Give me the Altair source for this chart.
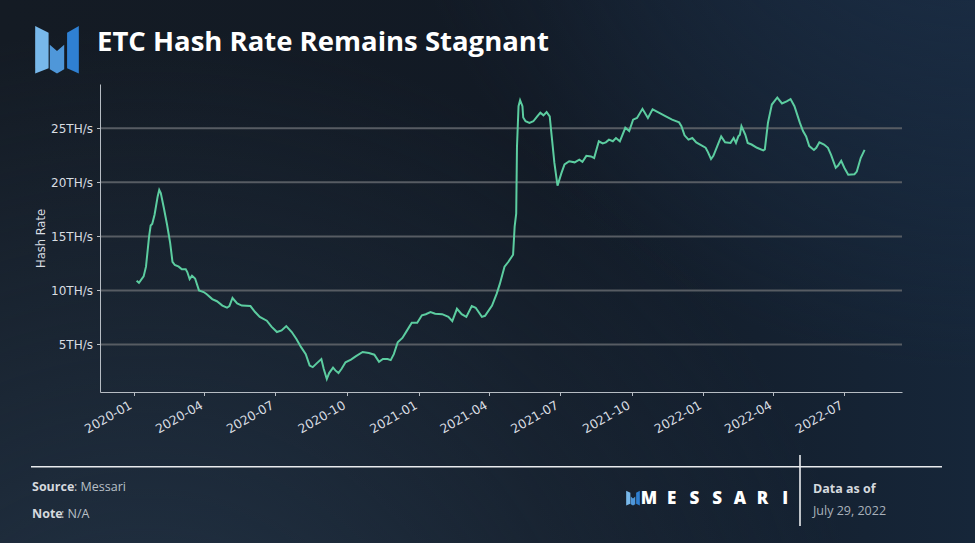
import altair as alt
import pandas as pd

# ---- data ---------------------------------------------------------------
dates = [
    "2020-01-05", "2020-01-08", "2020-01-14", "2020-01-17", "2020-01-21", "2020-01-23",
    "2020-01-25", "2020-01-28", "2020-02-01", "2020-02-03", "2020-02-05", "2020-02-09",
    "2020-02-13", "2020-02-17", "2020-02-20", "2020-02-23", "2020-02-28", "2020-03-03",
    "2020-03-08", "2020-03-10", "2020-03-13", "2020-03-16", "2020-03-20", "2020-03-25",
    "2020-03-31", "2020-04-04", "2020-04-11", "2020-04-17", "2020-04-24", "2020-04-30",
    "2020-05-03", "2020-05-07", "2020-05-13", "2020-05-19", "2020-05-30", "2020-06-05",
    "2020-06-11", "2020-06-20", "2020-06-26", "2020-07-03", "2020-07-09", "2020-07-15",
    "2020-07-22", "2020-07-28", "2020-08-03", "2020-08-09", "2020-08-14", "2020-08-18",
    "2020-08-23", "2020-08-29", "2020-09-01", "2020-09-05", "2020-09-08", "2020-09-13",
    "2020-09-16", "2020-09-20", "2020-09-24", "2020-09-29", "2020-10-06", "2020-10-12",
    "2020-10-21", "2020-10-29", "2020-11-05", "2020-11-11", "2020-11-16", "2020-11-22",
    "2020-11-26", "2020-11-30", "2020-12-05", "2020-12-11", "2020-12-17", "2020-12-23",
    "2020-12-30", "2021-01-05", "2021-01-10", "2021-01-16", "2021-01-22", "2021-01-31",
    "2021-02-08", "2021-02-13", "2021-02-19", "2021-02-25", "2021-03-03", "2021-03-10",
    "2021-03-15", "2021-03-23", "2021-03-27", "2021-04-05", "2021-04-11", "2021-04-15",
    "2021-04-21", "2021-04-26", "2021-05-02", "2021-05-04", "2021-05-06", "2021-05-07",
    "2021-05-09", "2021-05-11", "2021-05-14", "2021-05-15", "2021-05-18", "2021-05-23",
    "2021-05-28", "2021-06-02", "2021-06-06", "2021-06-10", "2021-06-14", "2021-06-18",
    "2021-06-21", "2021-06-24", "2021-06-28", "2021-07-03", "2021-07-07", "2021-07-13",
    "2021-07-20", "2021-07-26", "2021-07-30", "2021-08-04", "2021-08-10", "2021-08-14",
    "2021-08-20", "2021-08-25", "2021-08-29", "2021-09-02", "2021-09-07", "2021-09-11",
    "2021-09-16", "2021-09-23", "2021-09-28", "2021-10-03", "2021-10-08", "2021-10-15",
    "2021-10-22", "2021-10-28", "2021-11-05", "2021-11-14", "2021-11-22", "2021-12-01",
    "2021-12-04", "2021-12-08", "2021-12-13", "2021-12-18", "2021-12-23", "2021-12-28",
    "2022-01-04", "2022-01-07", "2022-01-11", "2022-01-14", "2022-01-19", "2022-01-24",
    "2022-01-29", "2022-02-05", "2022-02-09", "2022-02-12", "2022-02-15", "2022-02-17",
    "2022-02-19", "2022-02-24", "2022-02-27", "2022-03-04", "2022-03-11", "2022-03-19",
    "2022-03-21", "2022-03-25", "2022-03-30", "2022-04-06", "2022-04-12", "2022-04-18",
    "2022-04-23", "2022-04-28", "2022-05-05", "2022-05-09", "2022-05-13", "2022-05-17",
    "2022-05-23", "2022-05-26", "2022-05-30", "2022-06-05", "2022-06-10", "2022-06-14",
    "2022-06-20", "2022-06-23", "2022-06-27", "2022-07-01", "2022-07-06", "2022-07-14",
    "2022-07-17", "2022-07-22", "2022-07-27",
]
hash_rate = [  # TH/s
    10.9, 10.7, 11.3, 12.2, 15.0, 16.0,
    16.15, 17.0, 18.7, 19.3, 19.0, 17.6,
    16.1, 14.4, 12.65, 12.35, 12.2, 11.95,
    11.95, 11.7, 11.05, 11.35, 11.1, 10.0,
    9.85, 9.65, 9.2, 9.0, 8.6, 8.4,
    8.55, 9.3, 8.8, 8.6, 8.55, 8.0,
    7.55, 7.2, 6.65, 6.15, 6.3, 6.7,
    6.15, 5.5, 4.75, 4.1, 3.05, 2.9,
    3.25, 3.65, 2.75, 1.8, 2.35, 2.85,
    2.6, 2.35, 2.75, 3.35, 3.6, 3.9,
    4.3, 4.2, 4.05, 3.4, 3.65, 3.65,
    3.55, 4.1, 5.2, 5.6, 6.3, 7.0,
    7.0, 7.7, 7.8, 8.0, 7.85, 7.8,
    7.55, 7.15, 8.3, 7.8, 7.55, 8.55,
    8.4, 7.55, 7.65, 8.6, 9.7, 10.6,
    12.2, 12.65, 13.3, 15.9, 17.1, 23.3,
    27.05, 27.6, 27.05, 26.0, 25.65, 25.5,
    25.65, 26.1, 26.45, 26.2, 26.5, 26.1,
    23.95, 21.8, 19.7, 20.85, 21.65, 21.95,
    21.85, 22.1, 21.9, 22.45, 22.4, 22.25,
    23.8, 23.6, 23.7, 23.95, 23.8, 24.1,
    23.8, 25.05, 24.75, 25.8, 25.95, 26.8,
    25.95, 26.75, 26.45, 26.1, 25.8, 25.55,
    25.2, 24.35, 23.95, 24.1, 23.7, 23.5,
    23.2, 22.8, 22.15, 22.45, 23.35, 24.25,
    23.7, 23.65, 24.1, 23.65, 24.25, 24.4,
    25.2, 24.4, 23.65, 23.5, 23.2, 22.95,
    23.05, 25.5, 27.2, 27.85, 27.3, 27.5,
    27.7, 27.05, 25.5, 24.75, 24.25, 23.35,
    23.0, 23.2, 23.7, 23.5, 23.2, 22.55,
    21.35, 21.55, 22.0, 21.35, 20.7, 20.75,
    21.0, 22.25, 23.0,
]
y_ticks = [5, 10, 15, 20, 25]
x_ticks = [(2020, 1), (2020, 4), (2020, 7), (2020, 10), (2021, 1), (2021, 4),
           (2021, 7), (2021, 10), (2022, 1), (2022, 4), (2022, 7)]
x_range = [(2019, 11, 19), (2022, 9, 13)]
y_range = [0.6, 29.1]

title_text = "ETC Hash Rate Remains Stagnant"
y_title = "Hash Rate"
source_label, source_value = "Source", ": Messari"
note_label, note_value = "Note", ": N/A"
asof_label, asof_value = "Data as of", "July 29, 2022"
brand = "MESSARI"

# ---- layout -------------------------------------------------------------
FULL_W, FULL_H = 975, 543
OX, OY = 100, 84          # plot origin inside the canvas
W, H = 802, 308           # plot area
LINE_COLOR = "#5ccda0"
AXIS_COLOR = "#b6bcc3"
LABEL_COLOR = "#d9dde2"
GRID_COLOR = "#575c63"

one = alt.Data(values=[{}])


def px(x):
    return alt.value(x - OX)


def py(y):
    return alt.value(y - OY)


df = pd.DataFrame({"date": dates, "hash": hash_rate})

# background: dark navy with lighter corners
bg = alt.Chart(one).mark_rect(
    fill=alt.LinearGradient(
        gradient="linear", x1=0, y1=0, x2=1, y2=0,
        stops=[alt.GradientStop(offset=0, color="#141b24"),
               alt.GradientStop(offset=0.55, color="#121a25"),
               alt.GradientStop(offset=1, color="#162639")],
    )
).encode(x=px(0), x2=px(FULL_W), y=py(0), y2=py(FULL_H))

glow_bl = alt.Chart(one).mark_rect(
    fill=alt.RadialGradient(
        gradient="radial", x1=0.15, y1=1.0, r1=0, x2=0.15, y2=1.0, r2=0.75,
        stops=[alt.GradientStop(offset=0, color="rgba(36,54,74,0.95)"),
               alt.GradientStop(offset=1, color="rgba(36,54,74,0)")],
    )
).encode(x=px(0), x2=px(FULL_W), y=py(0), y2=py(FULL_H))

glow_tr = alt.Chart(one).mark_rect(
    fill=alt.RadialGradient(
        gradient="radial", x1=1.0, y1=0.0, r1=0, x2=1.0, y2=0.0, r2=0.6,
        stops=[alt.GradientStop(offset=0, color="rgba(28,47,72,0.9)"),
               alt.GradientStop(offset=1, color="rgba(28,47,72,0)")],
    )
).encode(x=px(0), x2=px(FULL_W), y=py(0), y2=py(FULL_H))

# ---- axes ---------------------------------------------------------------
x_enc = alt.X(
    "date:T",
    scale=alt.Scale(type="utc", domain=[alt.DateTime(year=a, month=b, date=c, utc=True)
                                        for a, b, c in x_range]),
    axis=alt.Axis(
        values=[alt.DateTime(year=a, month=b, date=1, utc=True) for a, b in x_ticks],
        format="%Y-%m", labelAngle=-30, labelAlign="right", labelBaseline="top",
        labelOverlap=False, labelFlush=False, labelPadding=3, labelOffset=-6,
        labelFont="DejaVu Sans", labelFontSize=12.5, labelColor=LABEL_COLOR,
        domainColor=AXIS_COLOR, tickColor=AXIS_COLOR, tickSize=3.5, grid=False,
        title=None, zindex=2,
    ),
)
y_enc = alt.Y(
    "hash:Q",
    scale=alt.Scale(domain=y_range, nice=False, zero=False),
    axis=alt.Axis(
        values=y_ticks, labelExpr="datum.value + 'TH/s'",
        labelFont="DejaVu Sans", labelFontSize=12, labelColor=LABEL_COLOR,
        labelPadding=4, domainColor=AXIS_COLOR, tickColor=AXIS_COLOR, tickSize=3.5,
        grid=False, zindex=2,
        title=y_title, titleFont="DejaVu Sans", titleFontSize=11.5,
        titleFontWeight="normal", titleColor=LABEL_COLOR, titleAngle=-90,
        titleX=-59, titleY=H / 2, titleAlign="center", titleBaseline="middle",
    ),
)

grid = alt.Chart(pd.DataFrame({"hash": y_ticks})).mark_rule(
    color=GRID_COLOR, strokeWidth=2
).encode(y=y_enc)

line = alt.Chart(df).mark_line(color=LINE_COLOR, strokeWidth=2).encode(x=x_enc, y=y_enc)


# ---- text and decorations -----------------------------------------------
def text(s, x, y, size, weight="normal", color="#ffffff", font="Open Sans",
         align="left", baseline="middle"):
    return alt.Chart(one).mark_text(
        text=s, font=font, fontSize=size, fontWeight=weight, color=color,
        align=align, baseline=baseline,
    ).encode(x=px(x), y=py(y))


def hrule(x1, x2, y, width=1.6, color="#e9ebee"):
    return alt.Chart(one).mark_rule(color=color, strokeWidth=width).encode(
        x=px(x1), x2=px(x2), y=py(y))


def vrule(x, y1, y2, width=1.6, color="#e9ebee"):
    return alt.Chart(one).mark_rule(color=color, strokeWidth=width).encode(
        x=px(x), y=py(y1), y2=py(y2))


LOGO_PARTS = [
    ("M-0.91,-0.98 L-0.35,-0.70 L-0.35,0.78 L-0.91,1 Z", "#78b8ea"),
    ("M-0.30,-0.20 L0,0.06 L0.30,-0.20 L0.30,0.82 L0,1 L-0.30,0.82 Z", "#4f97d9"),
    ("M0.91,-0.98 L0.91,1 L0.42,0.78 L0.42,-0.70 Z", "#2f80d3"),
]


def logo(cx, cy, side):
    return [
        alt.Chart(one).mark_point(
            shape=path, filled=True, size=side * side, color=col, opacity=1, strokeWidth=0
        ).encode(x=px(cx), y=py(cy))
        for path, col in LOGO_PARTS
    ]


letters = pd.DataFrame({"ch": list(brand), "i": list(range(len(brand)))})
brand_text = alt.Chart(letters).transform_calculate(
    xp=f"649 - {OX} + datum.i * 22.7"
).mark_text(
    font="Open Sans", fontWeight=800, fontSize=17, color="#ffffff",
    align="center", baseline="middle",
).encode(x=alt.X("xp:Q", scale=None), y=py(499), text="ch:N")

decor = [
    text(title_text, 97, 51, 27.5, "bold", baseline="alphabetic"),
    hrule(31, 942, 466.7),
    vrule(800, 455, 526),
    text(source_label, 32, 487, 12.5, "bold", "#d5d9de"),
    text(source_value, 74, 487, 12.5, "normal", "#b9c0c7"),
    text(note_label, 32, 514, 12.5, "bold", "#d5d9de"),
    text(note_value, 61, 514, 12.5, "normal", "#b9c0c7"),
    text(asof_label, 813, 489, 12.5, "bold", "#d5d9de"),
    text(asof_value, 813, 511, 12.5, "normal", "#a9b1ba"),
    brand_text,
] + logo(57, 49.5, 48) + logo(633, 498, 15)

chart = alt.layer(bg, glow_bl, glow_tr, grid, line, *decor).properties(
    width=W, height=H,
    padding={"left": OX, "top": OY, "right": FULL_W - OX - W, "bottom": FULL_H - OY - H},
    autosize="none", background="#141c26",
).configure_view(stroke=None)

chart.save("out.html", embed_options={"renderer": "svg", "actions": False})
